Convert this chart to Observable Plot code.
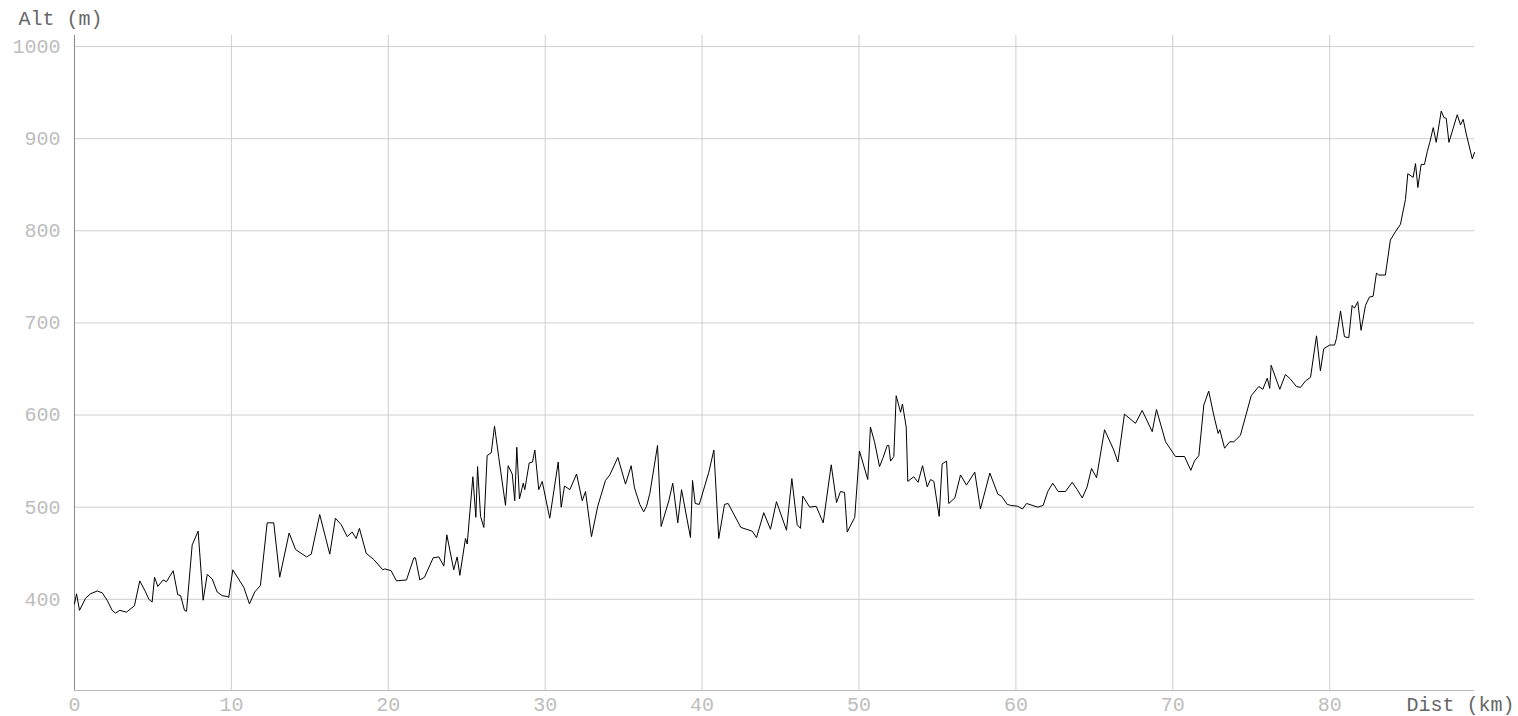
<!DOCTYPE html>
<html>
<head>
<meta charset="utf-8">
<script src="https://cdn.jsdelivr.net/npm/d3@7"></script>
<script src="https://cdn.jsdelivr.net/npm/@observablehq/plot@0.6"></script>
<style>
  html, body { margin: 0; padding: 0; background: #fff; }
</style>
</head>
<body>
<div id="chart"></div>
<script>
const dist = [0.00,0.13,0.32,0.70,1.02,1.45,1.77,2.08,2.40,2.61,2.89,3.31,3.82,4.16,4.53,4.74,4.95,5.10,5.31,5.65,5.86,6.29,6.58,6.76,7.01,7.14,7.50,7.88,8.20,8.46,8.78,9.09,9.41,9.73,9.83,10.09,10.79,11.15,11.49,11.85,12.28,12.70,13.08,13.68,14.09,14.79,15.09,15.63,16.27,16.63,17.00,17.38,17.70,17.95,18.16,18.59,19.08,19.65,19.78,20.18,20.52,21.16,21.63,21.73,22.01,22.31,22.86,23.22,23.54,23.73,24.17,24.39,24.56,24.92,25.03,25.39,25.58,25.69,25.88,26.09,26.30,26.56,26.77,27.04,27.47,27.64,27.90,28.06,28.19,28.36,28.60,28.70,28.98,29.19,29.34,29.59,29.81,30.29,30.83,31.02,31.23,31.57,32.00,32.36,32.57,32.95,33.35,33.84,34.12,34.63,35.12,35.48,35.69,36.03,36.28,36.46,36.67,37.16,37.39,37.88,38.13,38.45,38.69,39.26,39.39,39.56,39.82,40.43,40.75,41.06,41.43,41.66,42.47,43.19,43.47,43.93,44.36,44.74,45.38,45.72,46.06,46.27,46.42,46.86,47.27,47.72,48.23,48.57,48.82,49.08,49.25,49.73,50.03,50.56,50.73,50.99,51.31,51.54,51.80,51.90,52.01,52.22,52.37,52.65,52.77,53.01,53.11,53.49,53.77,54.05,54.35,54.56,54.77,55.11,55.30,55.58,55.72,56.11,56.47,56.85,57.38,57.74,58.34,58.85,59.08,59.45,59.66,60.12,60.42,60.68,61.40,61.74,62.03,62.35,62.70,63.16,63.59,63.91,64.23,64.54,64.82,65.14,65.65,66.24,66.50,66.92,67.62,68.05,68.69,68.96,69.54,70.17,70.75,71.15,71.38,71.66,71.98,72.29,72.61,72.89,73.00,73.30,73.63,73.89,74.31,75.00,75.48,75.74,76.02,76.18,76.27,76.82,77.18,77.50,77.88,78.14,78.46,78.78,79.16,79.41,79.62,80.00,80.31,80.43,80.69,80.94,81.22,81.43,81.58,81.79,82.00,82.28,82.53,82.77,82.98,83.13,83.55,83.87,84.19,84.51,84.83,84.98,85.32,85.47,85.62,85.83,86.04,86.22,86.38,86.60,86.79,87.11,87.28,87.43,87.60,88.13,88.34,88.51,88.72,89.09,89.23];
const alt = [395,406,388,401,406,409,407,399,388,385,388,386,393,420,408,400,397,424,414,421,419,431,405,404,388,387,459,474,399,427,422,408,404,403,402,432,413,395,408,415,483,483,424,472,454,446,449,492,449,488,481,468,473,466,477,450,443,432,433,431,420,421,445,445,421,424,445,446,436,470,432,446,426,466,460,533,489,544,490,478,556,559,588,554,502,545,536,507,565,509,526,519,548,549,562,519,528,488,549,500,523,519,536,507,517,468,501,529,535,554,525,545,521,503,495,501,515,567,479,507,526,483,519,467,529,504,503,538,562,466,503,504,478,474,467,494,476,506,475,531,481,477,512,500,501,483,546,505,517,516,473,489,561,530,587,571,544,554,567,567,550,555,621,603,612,587,528,533,527,545,522,530,528,490,547,550,504,510,535,524,538,498,537,514,512,503,502,501,498,504,500,502,517,526,517,517,527,519,510,522,542,532,584,562,549,601,591,605,582,606,571,555,555,540,550,556,611,626,600,580,584,564,571,571,578,621,631,628,640,629,654,628,644,639,631,630,637,641,686,648,672,676,676,683,713,685,684,719,716,723,692,719,728,729,754,752,752,790,799,807,834,862,858,873,847,872,872,886,896,912,896,930,923,922,896,926,915,921,904,878,885];
const xTicks = [0,10,20,30,40,50,60,70,80];
const yTicks = [400,500,600,700,800,900,1000];
const xGrid = [10,20,30,40,50,60,70,80];
const yLabel = "Alt (m)";
const xLabel = "Dist (km)";

const data = dist.map((d, i) => ({dist: d, alt: alt[i]}));
const FONT = "'Courier New', 'Liberation Mono', monospace";

const chart = Plot.plot({
  width: 1518,
  height: 716,
  marginLeft: 74,
  marginRight: 44,
  marginTop: 35,
  marginBottom: 26,
  style: {background: "#fff", fontFamily: FONT, fontSize: "20px"},
  x: {domain: [0, 89.23]},
  y: {domain: [301, 1012]},
  marks: [
    Plot.gridX(xGrid, {stroke: "#cfcfcf", strokeOpacity: 1, strokeWidth: 1}),
    Plot.gridY(yTicks, {stroke: "#cfcfcf", strokeOpacity: 1, strokeWidth: 1}),
    Plot.ruleY([301], {stroke: "#bbb", strokeWidth: 1}),
    Plot.ruleX([0], {stroke: "#888", strokeWidth: 1}),
    Plot.axisX(xTicks, {tickSize: 0, tickPadding: 14, lineAnchor: "middle", label: null, tickFormat: d => String(d), fill: "#bdbdbd", fontSize: 20, fontFamily: FONT}),
    Plot.axisY(yTicks, {tickSize: 0, tickPadding: 14, label: null, tickFormat: d => String(d), fill: "#bdbdbd", fontSize: 20, fontFamily: FONT}),
    Plot.line(data, {x: "dist", y: "alt", stroke: "#000", strokeWidth: 1}),
    Plot.text([yLabel], {frameAnchor: "top-left", text: d => d, textAnchor: "start", lineAnchor: "middle", dx: -56, dy: -17, fill: "#666", fontSize: 20, fontFamily: FONT}),
    Plot.text([xLabel], {frameAnchor: "bottom-right", text: d => d, textAnchor: "end", lineAnchor: "middle", dx: 40, dy: 14, fill: "#666", fontSize: 20, fontFamily: FONT})
  ]
});
document.getElementById("chart").appendChild(chart);
</script>
</body>
</html>
